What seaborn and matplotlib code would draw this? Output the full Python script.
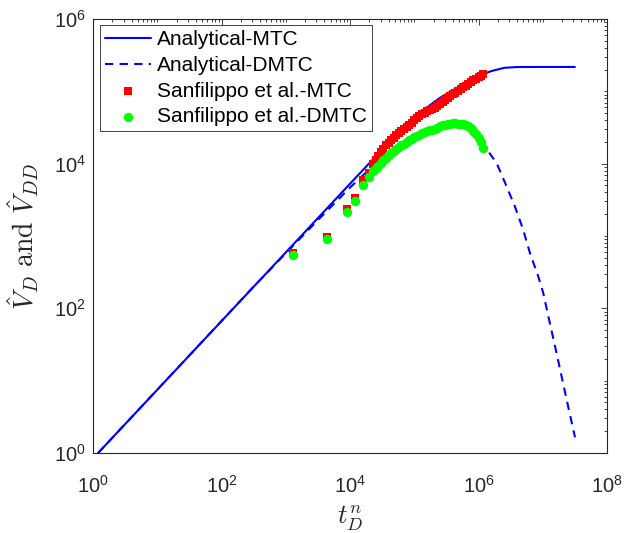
import numpy as np
import pandas as pd
import matplotlib
matplotlib.use("Agg")
import matplotlib.pyplot as plt
import matplotlib.ticker as mticker
import seaborn as sns

# Analytical solution, mass transfer coefficient (MTC)
t_mtc = [1.2, 1e4, 25120, 50120, 1e5, 158500, 251200, 398100, 631000,
         1e6, 1585000, 2512000, 3981000, 1e7, 3.16e7]
v_mtc = [1, 5272, 12590, 23440, 42660, 60260, 81280, 103500, 131800,
         164100, 190500, 211300, 216800, 217300, 217300]

# Analytical solution, dynamic mass transfer coefficient (DMTC)
t_dmtc = [1.2, 316.2, 3162, 1e4, 19950, 31620, 63100, 1e5, 158500, 251200,
          398100, 562300, 794300, 1e6, 1189000, 1422000, 1919000, 2748000,
          3698000, 4977000, 6339000, 8531000, 10210000, 11780000, 16870000,
          23600000, 31770000]
v_dmtc = [1, 199.5, 1660, 4677, 8318, 11480, 18620, 23710, 28840, 33500,
          36310, 35890, 30900, 25120, 19050, 14790, 10120, 4808,
          2541, 1211, 576.8, 274.2, 161.4, 89.95, 21.43,
          5.408, 1.648]

# Sanfilippo et al. data
t_sanf = [1283, 4430, 8880, 12100, 16100, 19800,
          22900, 25100, 27500, 30200, 33100, 36300, 39800, 43700, 47900, 52500,
          57500, 63100, 69200, 75900, 83200, 91200, 100000, 109600, 120200, 131800,
          144500, 158500, 173800, 190500, 208900, 229100, 251200, 275400, 302000, 331100,
          363100, 398100, 436500, 478600, 524800, 575400, 631000, 691800, 758600, 831800,
          912000, 1000000, 1096000, 1189000]
v_sanf_mtc = [588, 960, 2340, 3320, 5950, 7500,
              10000, 11320, 12790, 14420, 16110, 17990, 19590, 21130, 22750, 24550,
              26300, 28180, 30200, 32360, 34590, 37070, 39720, 42460, 45290, 48190,
              50700, 52720, 54950, 57150, 59570, 62520, 66990, 71780, 76740, 81850,
              86300, 91200, 96160, 101600, 107400, 113200, 119700, 126500, 133700, 141300,
              149300, 157400, 165200, 172200]
v_sanf_dmtc = [540, 900, 2150, 3020, 5070, 6600,
               7834, 8590, 9397, 10300, 11250, 12080, 12970, 13930, 15000, 16110,
               17020, 17950, 18880, 19910, 20940, 22080, 23170, 24150, 25180, 26240,
               27350, 28440, 29040, 29650, 30480, 31550, 32730, 33880, 34590, 35080,
               35560, 36060, 36060, 35890, 35650, 35400, 34510, 33340, 31620, 28440,
               25640, 22910, 19770, 16630]

mtc_df = pd.DataFrame({"t": t_mtc, "v": v_mtc})
dmtc_df = pd.DataFrame({"t": t_dmtc, "v": v_dmtc})
sanf_df = pd.DataFrame({"t": t_sanf, "mtc": v_sanf_mtc, "dmtc": v_sanf_dmtc})

sns.set_theme(style="white")
plt.rcParams["font.family"] = ["Liberation Sans", "DejaVu Sans"]
plt.rcParams["mathtext.fontset"] = "custom"
plt.rcParams["mathtext.rm"] = "Liberation Sans"
ink = "#262626"

fig = plt.figure(figsize=(6.26, 5.33), dpi=100)
ax = fig.add_axes([93 / 626, 1 - 453 / 533, 514 / 626, 434 / 533])
ax.set_xscale("log")
ax.set_yscale("log")

sns.lineplot(data=mtc_df, x="t", y="v", ax=ax, color="#0000FF", lw=1.5,
             estimator=None, sort=False, label="Analytical-MTC", zorder=2)
sns.lineplot(data=dmtc_df, x="t", y="v", ax=ax, color="#0000FF", lw=1.5,
             estimator=None, sort=False, label="Analytical-DMTC", zorder=2)
ax.lines[-1].set_dashes([4, 3])

sns.scatterplot(data=sanf_df, x="t", y="mtc", ax=ax, marker="s", color="#FF0000",
                s=38, linewidth=0, label="Sanfilippo et al.-MTC", zorder=3)
sns.scatterplot(data=sanf_df, x="t", y="dmtc", ax=ax, marker="o", color="#00FF00",
                s=46, linewidth=0, label="Sanfilippo et al.-DMTC", zorder=4)

ax.set_xlim(1, 1e8)
ax.set_ylim(1, 1e6)
ax.xaxis.set_major_locator(mticker.FixedLocator([1e0, 1e2, 1e4, 1e6, 1e8]))
ax.yaxis.set_major_locator(mticker.FixedLocator([1e0, 1e2, 1e4, 1e6]))
ax.xaxis.set_major_formatter(mticker.LogFormatterSciNotation())
ax.yaxis.set_major_formatter(mticker.LogFormatterSciNotation())
for axis in (ax.xaxis, ax.yaxis):
    axis.set_minor_locator(mticker.LogLocator(base=10, subs=np.arange(1, 10), numticks=100))
    axis.set_minor_formatter(mticker.NullFormatter())

ax.tick_params(which="both", direction="in", top=True, right=True,
               colors=ink, labelcolor=ink, width=0.6)
ax.tick_params(which="major", length=4, labelsize=14.5)
ax.tick_params(axis="x", which="major", pad=16)
ax.tick_params(axis="y", which="major", pad=5)
ax.tick_params(which="minor", length=2.2)
for sp in ax.spines.values():
    sp.set_color(ink)
    sp.set_linewidth(0.8)

ax.set_xlabel(r"$t_D^n$", fontsize=19, color=ink, math_fontfamily="cm", labelpad=5)
ax.set_ylabel(r"$\hat{V}_D\ \mathrm{and}\ \hat{V}_{DD}$", fontsize=20, color=ink,
              math_fontfamily="cm", labelpad=9)

leg = ax.legend(loc="upper left", bbox_to_anchor=(7 / 514, 1 - 6 / 434),
                borderaxespad=0, fontsize=15, frameon=True, fancybox=False,
                framealpha=1, edgecolor=ink, handlelength=2.2, handletextpad=0.3,
                borderpad=0.25, labelspacing=0.32, scatterpoints=1)
leg.get_frame().set_linewidth(0.6)
for txt in leg.get_texts():
    txt.set_color("black")

fig.savefig("out.png", dpi=100, facecolor="white")
